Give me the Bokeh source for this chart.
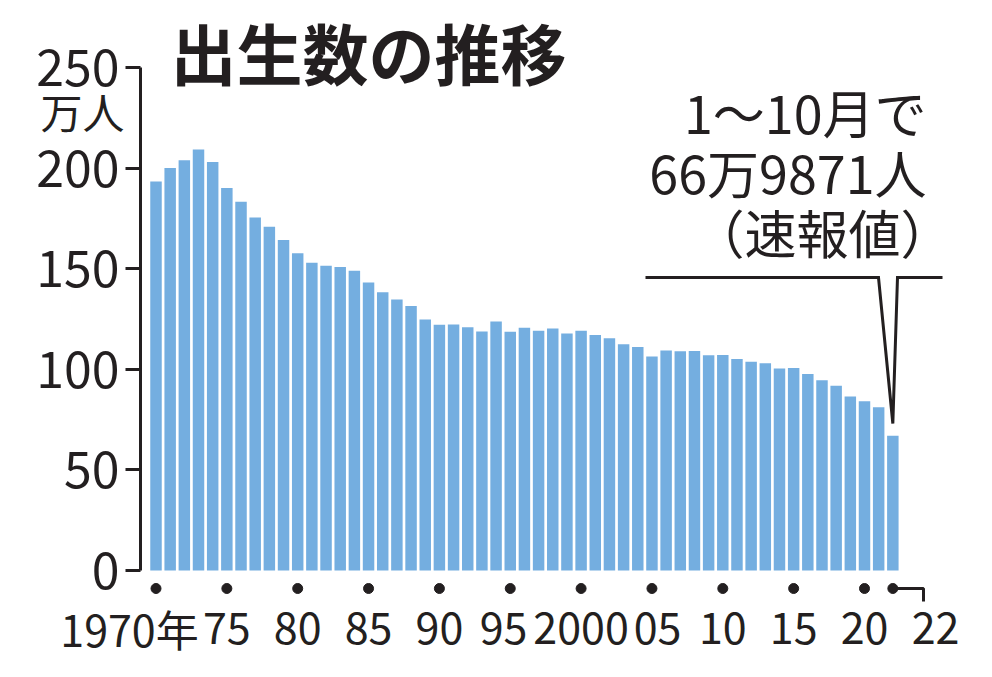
from bokeh.plotting import figure
from bokeh.models import Range1d, FixedTicker, Label
from bokeh.core.properties import value
from bokeh.embed import file_html
from bokeh.resources import INLINE

# ---- data (万人) ----
years = list(range(1970, 2023))
births = [193.4, 200.1, 203.9, 209.2, 203.0, 190.1, 183.3, 175.5, 170.9, 164.3,
          157.7, 152.9, 151.5, 150.9, 149.0, 143.2, 138.3, 134.7, 131.4, 124.7,
          122.2, 122.3, 120.9, 118.8, 123.8, 118.7, 120.7, 119.2, 120.3, 117.8,
          119.1, 117.1, 115.4, 112.4, 111.1, 106.3, 109.3, 109.0, 109.1, 107.0,
          107.1, 105.1, 103.7, 103.0, 100.4, 100.6, 97.7, 94.6, 91.8, 86.5,
          84.1, 81.2, 66.9871]
y_ticks = [0, 50, 100, 150, 200, 250]
x_tick_years = [1970, 1975, 1980, 1985, 1990, 1995, 2000, 2005, 2010, 2015, 2020, 2022]
x_tick_labels = ["1970年", "75", "80", "85", "90", "95", "2000", "05", "10", "15", "20", "22"]
title_text = "出生数の推移"
unit_text = "万人"
note_lines = ["1～10月で", "66万9871人", "（速報値）"]

# ---- layout helpers (picture pixel -> data) ----
W, H = 976, 661
S = 14.17                    # px per year
K = 503 / 250                # px per 万人
x_start = 1970 - 155.5 / S
x_end = 1970 + (W - 155.5) / S
y_start = -(H - 570) / K
y_end = 250 + 67 / K

def X(px):
    return x_start + px / S

def Y(py):
    return (570 - py) / K

INK = "#231f20"
BAR = "#74aee0"
FONT = "Noto Sans CJK JP"

p = figure(width=W, height=H, output_backend="svg", toolbar_location=None,
           x_range=Range1d(x_start, x_end), y_range=Range1d(y_start, y_end),
           min_border_left=0, min_border_right=0, min_border_top=0, min_border_bottom=0)
p.background_fill_color = "white"
p.border_fill_color = "white"
p.outline_line_color = None
p.grid.visible = False
p.xaxis.visible = False

ax = p.yaxis[0]
ax.fixed_location = X(140)
ax.ticker = FixedTicker(ticks=y_ticks)
ax.bounds = (0, 250)
ax.axis_line_width = 3
ax.axis_line_color = INK
ax.major_tick_line_width = 3
ax.major_tick_line_color = INK
ax.major_tick_out = 15
ax.major_tick_in = 0
ax.minor_tick_line_color = None
ax.major_label_standoff = 6
ax.major_label_text_font = FONT
ax.major_label_text_font_size = "50px"
ax.major_label_text_color = INK

# bars
p.vbar(x=years, top=births, width=0.81, bottom=0, fill_color=BAR, line_color=None)

# x tick dots and labels
dot_y = Y(588)
p.scatter(x=x_tick_years, y=[dot_y] * len(x_tick_years), size=10, color=INK)
lab_x = list(x_tick_years)
lab_x[0] = X(129)      # 1970年 extends left of its dot
lab_x[5] = X(503)      # "95" nudged left to clear "2000"
lab_x[7] = X(657)      # "05" nudged right to clear "2000"
lab_x[-1] = X(935)     # "22" sits right of its dot, joined by a bracket
p.text(x=lab_x, y=[Y(627)] * len(lab_x), text=x_tick_labels,
       text_font=value(FONT), text_font_size="43px", text_color=INK,
       text_align="center", text_baseline="middle")
p.line(x=[x_tick_years[-1], X(923), X(923)], y=[dot_y, dot_y, Y(601)],
       line_width=3, line_color=INK)

# callout line
p.line(x=[X(645), X(878), years[-1], X(897), X(942)],
       y=[Y(277), Y(277), Y(423), Y(277), Y(277)],
       line_width=3, line_color=INK, line_join="miter")

# title
p.add_layout(Label(x=X(170), y=Y(50), text=title_text, text_font=FONT,
                   text_font_style="bold", text_font_size="66px", text_color=INK,
                   text_align="left", text_baseline="middle"))
# unit
p.add_layout(Label(x=X(124), y=Y(110), text=unit_text, text_font=FONT,
                   text_font_size="42px", text_color=INK,
                   text_align="right", text_baseline="middle"))
# note
for txt, cy, rx in zip(note_lines, [111, 171, 231], [926, 926, 952]):
    p.add_layout(Label(x=X(rx), y=Y(cy), text=txt, text_font=FONT,
                       text_font_size="52px", text_color=INK,
                       text_align="right", text_baseline="middle"))

open("out.html", "w").write(file_html(p, INLINE))
